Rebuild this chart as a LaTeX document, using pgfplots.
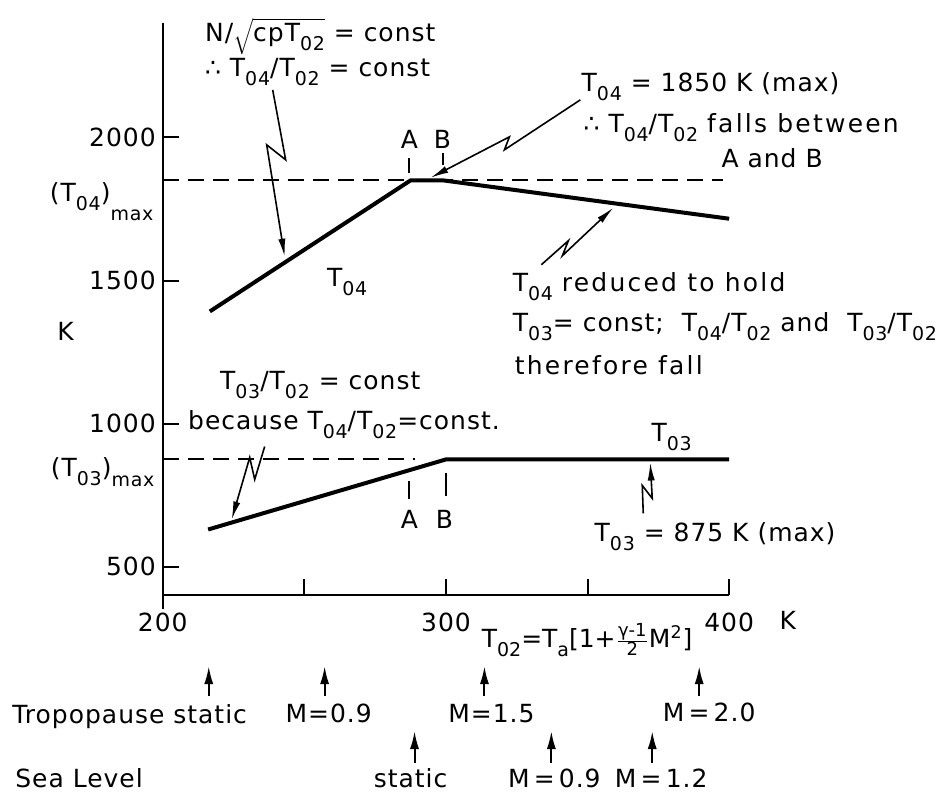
\documentclass[border=0pt]{standalone}
\usepackage{pgfplots}
\pgfplotsset{compat=1.18}
\usepackage{fontspec}
\setmainfont{DejaVu Sans}[LetterSpace=4]
\usetikzlibrary{arrows.meta}

% lowered, smaller subscripts as in the hand lettering
\newcommand{\s}[1]{\raisebox{-4.5pt}{\fontsize{9.5}{10}\selectfont #1}}
\newcommand{\sm}[2]{\raisebox{#1}{\fontsize{9.5}{10}\selectfont #2}}
\newcommand{\wide}{\addfontfeatures{LetterSpace=9}}
\newcommand{\tight}{\addfontfeatures{LetterSpace=0}}

\tikzset{
  lab/.style={anchor=base west, inner sep=0pt},
  labc/.style={anchor=base, inner sep=0pt},
  bolt/.style={line width=0.8pt, -{Latex[length=9pt,width=3.6pt]}},
  up/.style={line width=1pt, -{Latex[length=9pt,width=4.6pt]}},
}

\begin{document}
\begin{tikzpicture}[font=\fontsize{12.5}{15}\selectfont]
\begin{axis}[
  at={(81.5pt,-298pt)}, anchor=south west,
  scale only axis, width=283.5pt, height=286.5pt,
  xmin=200, xmax=400, ymin=400, ymax=2400,
  axis x line=bottom, axis y line=left,
  axis line style={-, line width=1pt},
  y axis line style={shorten <=-7pt},
  tick align=inside, major tick length=8pt,
  tick style={black, line width=1pt},
  xtick={200,250,300,350,400}, xticklabels={200,,300,,400},
  ytick={500,1000,1500,2000}, yticklabels={500,1000,1500,2000},
  xticklabel style={yshift=-5.5pt},
  clip=false,
]
  % T04
  \addplot[black, line width=2pt] coordinates {
    (216.6,1392) (287.5,1850) (299,1850) (400,1716)
  };
  % T03
  \addplot[black, line width=2pt] coordinates {
    (216,630) (300,875) (400,875)
  };
  % limits
  \addplot[black, line width=1pt, dash pattern=on 8pt off 4.5pt] coordinates {(200,1850) (398,1850)};
  \addplot[black, line width=1pt, dash pattern=on 8pt off 4.5pt] coordinates {(200,875) (289,875)};
  % A / B markers
  \draw[line width=1pt] (axis cs:287,1929) -- (axis cs:287,1877);
  \draw[line width=1pt] (axis cs:299,1946) -- (axis cs:299,1904);
  \draw[line width=1pt] (axis cs:287,798) -- (axis cs:287,735);
  \draw[line width=1pt] (axis cs:300,829) -- (axis cs:300,746);
\end{axis}

\begin{scope}[x=0.5pt, y=-0.5pt]
  \path (0,0) rectangle (937,794);

  % y axis annotations
  \node[lab] at (57,341) {K};
  \node[anchor=base east, inner sep=0pt] at (154,202) {(T\s{04})\sm{-9.5pt}{max}};
  \node[anchor=base east, inner sep=0pt] at (155,477) {(T\s{03})\sm{-5pt}{max}};

  % upper curve
  \node[lab] at (205,42) {N/$\sqrt{\mbox{cpT\s{02}}}$ = const};
  \node[lab] at (205,77) {∴ T\s{04}/T\s{02} = const};
  \draw[bolt] (273,90) -- (286,160) -- (267,145) -- (285,257);
  \node[lab] at (327,287) {T\s{04}};
  \node[labc] at (410,149) {A};
  \node[labc] at (443,149) {B};

  \node[lab] at (582,92) {T\s{04} = 1850 K (max)};
  \node[lab] at (584,133) {∴ T\s{04}/T\s{02} {\wide falls between}};
  \node[lab] at (722,168) {A and B};
  \draw[bolt] (581,100) -- (505,150) -- (510,137) -- (431,178);

  \node[lab] at (513,292) {T\s{04} {\wide reduced to hold}};
  \node[lab] at (513,332) {T\s{03}= const; \ T\s{04}/T\s{02} and \ T\s{03}/T\s{02}};
  \node[lab] at (515,375) {\wide therefore fall};
  \draw[bolt] (542,265) -- (569,241) -- (563,256) -- (614,208);

  % lower curve
  \node[lab] at (220,390) {T\s{03}/T\s{02} = const};
  \node[lab] at (188,430) {because T\s{04}/T\s{02}=const.};
  \draw[bolt] (265,447) -- (255,480) -- (250,458) -- (232,520);
  \node[lab] at (652,442) {T\s{03}};
  \node[lab] at (595,542) {T\s{03} = 875 K (max)};
  \draw[bolt] (644,514) -- (643,486) -- (653,499) -- (651,463);
  \node[labc] at (410,529) {A};
  \node[labc] at (445,529) {B};

  % x axis annotations
  \node[lab] at (780,630) {K};
  \node[lab] at (482,648) {\tight T\s{02}=T\s{a}[1+$\frac{\mbox{\fontsize{9}{9}\selectfont γ-1}}{\mbox{\fontsize{9}{9}\selectfont 2}}$M\textsuperscript{2}]};

  % flight conditions
  \draw[up] (209,697) -- (209,667);
  \draw[up] (325,697) -- (325,667);
  \draw[up] (485,697) -- (485,667);
  \draw[up] (700,697) -- (700,667);
  \node[lab] at (12,724) {Tropopause static};
  \node[labc] at (329,723) {M=0.9};
  \node[labc] at (492,723) {M=1.5};
  \node[labc] at (710,722) {M\,=\,2.0};

  \draw[up] (415,764) -- (415,732);
  \draw[up] (552,764) -- (552,732);
  \draw[up] (653,764) -- (653,732);
  \node[lab] at (15,788) {Sea Level};
  \node[labc] at (411,788) {static};
  \node[labc] at (555,788) {M\,=\,0.9};
  \node[labc] at (662,788) {M\,=\,1.2};
\end{scope}
\end{tikzpicture}
\end{document}
